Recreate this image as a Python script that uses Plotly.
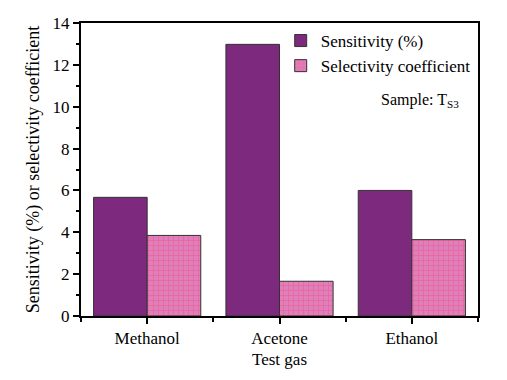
import plotly.graph_objects as go

categories = ["Methanol", "Acetone", "Ethanol"]
sensitivity = [5.67, 12.98, 6.0]
selectivity = [3.85, 1.66, 3.65]

font_family = "Liberation Serif"
positions = list(range(len(categories)))

fig = go.Figure()
fig.add_trace(go.Bar(
    x=positions, y=sensitivity, name="Sensitivity (%)",
    marker=dict(color="#7D2A7E", line=dict(color="#333333", width=1)),
))
fig.add_trace(go.Bar(
    x=positions, y=selectivity, name="Selectivity coefficient",
    marker=dict(color="#DE80BC", line=dict(color="#333333", width=1),
                pattern=dict(shape="+", fgcolor="#FF4070", bgcolor="#DE80BC",
                             size=5, solidity=0.25)),
))

fig.update_layout(
    width=491, height=372,
    margin=dict(l=73, r=21, t=15, b=64),
    paper_bgcolor="white", plot_bgcolor="white",
    barmode="group", bargap=0.19, bargroupgap=0,
    font=dict(family=font_family, size=17, color="black"),
    showlegend=True,
    legend=dict(x=0.503, y=1.0, xanchor="left", yanchor="top",
                bgcolor="rgba(0,0,0,0)", font=dict(size=17),
                tracegroupgap=0, itemwidth=30),
    annotations=[dict(
        text="Sample: T<sub>S3</sub>", x=0.75, y=0.735, xref="paper", yref="paper",
        xanchor="left", yanchor="middle", showarrow=False,
        font=dict(size=16, family=font_family, color="black"))],
)

fig.update_xaxes(
    range=[-0.5, 2.5], showline=True, linecolor="black", linewidth=2,
    mirror=True, ticks="outside", ticklen=6, tickwidth=1.5, tickcolor="black",
    tickmode="array", tickvals=positions, ticktext=categories,
    minor=dict(tick0=0.5, dtick=1, ticks="outside", ticklen=4, tickcolor="black", tickwidth=1.5),
    title=dict(text="Test gas", standoff=6, font=dict(size=17)),
    tickfont=dict(size=17), showgrid=False, zeroline=False, automargin=False,
)
fig.update_yaxes(
    range=[0, 14], dtick=2, showline=True, linecolor="black", linewidth=2,
    mirror=True, ticks="outside", ticklen=6, tickwidth=1.5, tickcolor="black",
    minor=dict(dtick=1, ticks="outside", ticklen=3, tickcolor="black", tickwidth=1.5),
    title=dict(text="Sensitivity (%) or selectivity coefficient", standoff=8,
               font=dict(size=18)),
    tickfont=dict(size=17), showgrid=False, zeroline=False, automargin=False,
)

fig.write_html("out.html")
